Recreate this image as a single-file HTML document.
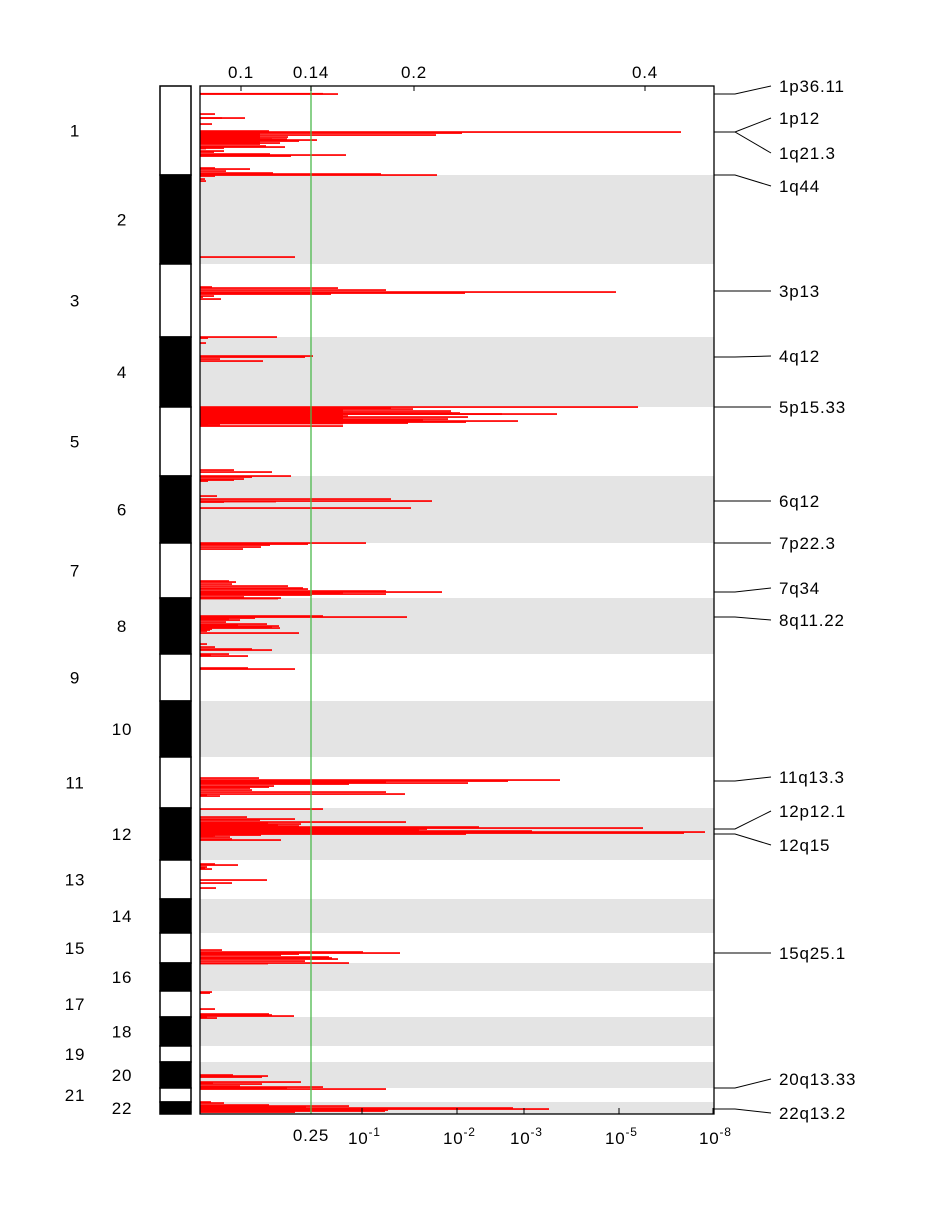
<!DOCTYPE html>
<html><head><meta charset="utf-8"><style>
body{margin:0;background:#fff;}
svg text{font-family:"Liberation Sans",sans-serif;letter-spacing:0.8px;}
</style></head><body>
<svg id="c" width="948" height="1200" xmlns="http://www.w3.org/2000/svg"></svg>
<script>
const chromStarts=[0,89,178,251,321,390,457,512,568,615,671,722,774,813,847,877,905,931,960,976,1002,1016,1028];
const chromNames=["1","2","3","4","5","6","7","8","9","10","11","12","13","14","15","16","17","18","19","20","21","22"];
const barPos=[7.7,8,28,32,32,38,45,46,47,49,51,53,53,54,55,56,57,60,61,62,62.5,65,66,68,69,70,45.5,46.5,48,50,52,54,56,58,
82,83,85,87,88,89,90,93,95,171,
201,202,204,206,207,208,210,211,213,251,252,257,270,271,273,275,
321,322,322,323,325,327,327,328,328,330,331,333,334,334,335,336,337,339,340,
321.5,322.5,323.5,324.5,325.5,326.5,327.5,328.5,329.5,330.5,331.5,332.5,333.5,334.5,335.5,336.5,337.5,338.5,
384,386,390,390.5,391,393,394,395,410,413,415,415.5,416,422,457,458,459,461,463,
495,496,498,500,502,503,505,506,506.5,507,508,509,511,512,512.5,
530,531,532,533,534,536,538,539,540,541,542,543,544,545,547,558,561,563,564,568,569,570,582,583,
692,694,695,696,697,698,700,701,702,704,706,708,709,710,
723,731,733,734,736,737,738,739,740,741,742,743,744,745,746,747,748,749,749.5,750,751,753,754,
778,779,781,782,783,794,797,802,
864,866,867,868,869,871,872,873,875,877,877.5,906,907,923,928,929,930,931,932,
989,990,991,996,997,998,1000,1001,1002,1003,
1016,1017,1019,1020,1021,1022,1023,1024,1025,1026,1027];
const barVal=[123,138,15,45,22,12,69,481,262,236,88,87,72,117,99,59,80,66,85,24,6,24,14,70,146,91,60,60,60,60,60,60,60,60,
15,50,26,73,181,237,15,5,6,95,
12,138,186,416,265,131,14,3,21,77,8,6,113,105,20,63,
438,191,143,213,251,260,252,357,302,148,268,248,208,223,318,266,208,20,
143,143,143,143,143,143,143,143,143,143,143,143,143,143,143,143,143,143,
8,34,72,91,48,52,44,34,8,17,191,232,76,24,211,166,108,70,61,
43,29,36,32,88,103,108,186,242,143,140,186,112,44,81,
78,123,207,55,29,40,26,67,38,79,72,80,12,10,7,99,7,15,52,72,29,11,48,
48,95,59,360,308,186,268,149,74,69,50,52,186,205,
7,20,123,47,95,60,206,68,101,78,99,279,443,227,219,332,505,484,266,61,15,13,30,
32,81,15,38,7,5,12,67,32,16,22,163,200,99,81,129,132,
138,105,149,68,12,10,15,69,72,94,7,
17,33,68,62,101,13,62,40,123,87,
186,11,24,69,149,106,313,349,188,185,95];
const barStart=[];
const topTickVals=[41,111,214,445];
const topTickLabels=["0.1","0.14","0.2","0.4"];
const botTickVals=[162,257,324,419,513];
const botTickBase=["10","10","10","10","10"];
const botTickExp=["-1","-2","-3","-5","-8"];
const threshVal=111;
const peakNames=["1p36.11","1p12","1q21.3","1q44","3p13","4q12","5p15.33","6q12","7p22.3","7q34","8q11.22","11q13.3","12p12.1","12q15","15q25.1","20q13.33","22q13.2"];
const peakPos=[8,46,46,89,205,271,321,415,457,506,531,695,743,748,867,1002,1023];
const peakLabelPos=[0,32,67,100,205,270,321,415,457,502,534,691,725,759,867,993,1027];

const X0=200,X1=714,Y0=86,Y1=1114;
const xs=v=>X0+v, ys=p=>Y0+p;
const svg=document.getElementById('c');
const NS="http://www.w3.org/2000/svg";
function mk(t,a,parent){const e=document.createElementNS(NS,t);for(const k in a)e.setAttribute(k,a[k]);(parent||svg).appendChild(e);return e;}
for(let i=0;i<chromNames.length;i++){
  const y0=ys(chromStarts[i]),y1=ys(chromStarts[i+1]);
  if(i%2==1){const r=mk('rect',{x:X0,y:y0,width:X1-X0,height:y1-y0,fill:'#e4e4e4'});
    
    }
  const id=mk('rect',{x:160,y:y0,width:31,height:y1-y0,fill:i%2==1?'#000':'#fff',stroke:'#000','stroke-width':1.5});
  
  
  const t=mk('text',{x:i%2==0?75:122,y:(y0+y1)/2+6,'font-size':17,'text-anchor':'middle'});
  t.textContent=chromNames[i];
  
  
}
for(let i=0;i<barPos.length;i++){
  const s=barStart[i]||0;
  const r=mk('rect',{x:xs(s),y:ys(barPos[i])-0.8,width:barVal[i]-s,height:1.7,fill:'#ff0000'});
  
  
}
const th=mk('line',{x1:xs(threshVal),x2:xs(threshVal),y1:Y0,y2:Y1,stroke:'#4cb84c','stroke-width':1.3});


const fr=mk('rect',{x:X0,y:Y0,width:X1-X0,height:Y1-Y0,fill:'none',stroke:'#000','stroke-width':1.3});


for(let i=0;i<topTickVals.length;i++){
  const x=xs(topTickVals[i]);
  const l=mk('line',{x1:x,x2:x,y1:Y0,y2:Y0+5,stroke:'#000'});
  
  
  const t=mk('text',{x:x,y:78,'font-size':17,'text-anchor':'middle'});
  t.textContent=topTickLabels[i];
  
  
}
const t25=mk('text',{x:xs(threshVal),y:1141,'font-size':17,'text-anchor':'middle'});
t25.textContent="0.25";


for(let i=0;i<botTickVals.length;i++){
  const x=xs(botTickVals[i]);
  const l=mk('line',{x1:x,x2:x,y1:Y1,y2:Y1-6,stroke:'#000'});
  
  
  const t=mk('text',{x:x-14,y:1144,'font-size':17});
  
  
  t.textContent=botTickBase[i];
  const sp=mk('tspan',{dy:-8,'font-size':12},t);
  sp.textContent=botTickExp[i];
}
for(let i=0;i<peakNames.length;i++){
  const yb=ys(peakPos[i]),yl=ys(peakLabelPos[i]);
  const p=mk('polyline',{points:`${X1},${yb} 735,${yb} 771,${yl}`,fill:'none',stroke:'#000','stroke-width':1});
  
  
  const t=mk('text',{x:779,y:yl+6,'font-size':17});
  t.textContent=peakNames[i];
  
  
}
</script>
</body></html>
